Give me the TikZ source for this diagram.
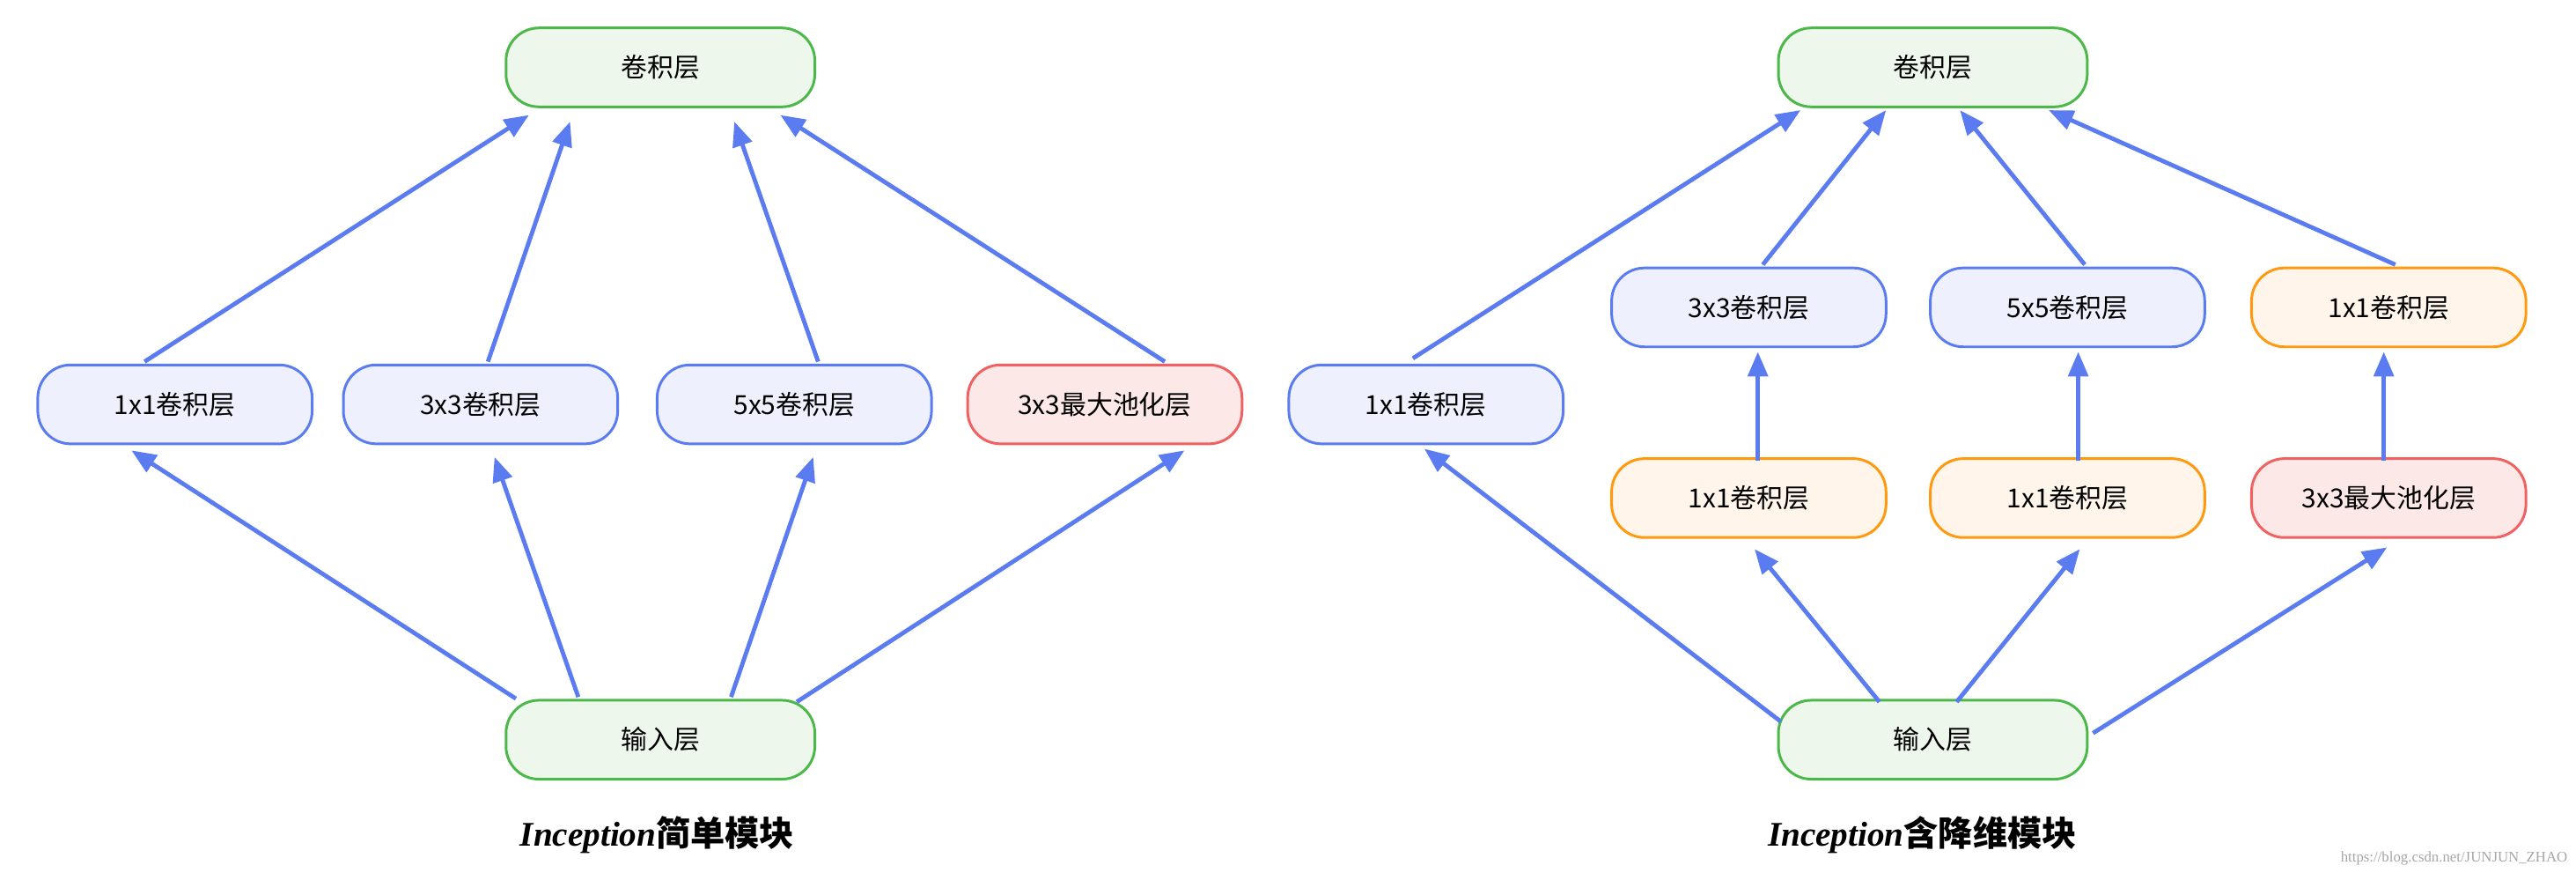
\documentclass[tikz,border=0pt]{standalone}
\usepackage{fontspec}
\setmainfont{Noto Sans CJK SC}
\newfontfamily\capfont{Noto Sans CJK SC}
\newfontfamily\itfont{Liberation Serif}
\newfontfamily\wmfont{Liberation Serif}
\usetikzlibrary{calc,arrows.meta}
\definecolor{bstroke}{HTML}{5B7CF0}
\definecolor{bfill}{HTML}{EEF1FD}
\definecolor{gstroke}{HTML}{4DB84A}
\definecolor{gfill}{HTML}{EEF7EC}
\definecolor{rstroke}{HTML}{F06262}
\definecolor{rfill}{HTML}{FDE8E8}
\definecolor{ostroke}{HTML}{FF9A10}
\definecolor{ofill}{HTML}{FFF5EA}
\tikzset{
  box/.style={rounded corners=20pt,line width=1.6pt,minimum height=48pt,inner sep=0pt,font=\fontsize{16}{18}\selectfont},
  sbox/.style={box,minimum width=167pt},
  wbox/.style={box,minimum width=188pt},
  bb/.style={sbox,draw=bstroke,fill=bfill},
  gb/.style={wbox,draw=gstroke,fill=gfill},
  rb/.style={sbox,draw=rstroke,fill=rfill},
  ob/.style={sbox,draw=ostroke,fill=ofill},
  arr/.style={draw=bstroke,line width=2.6pt,-{Triangle[length=15pt,width=12pt]}},
  captxt/.style={font=\fontsize{21}{24}\selectfont}
}
\begin{document}
\begin{tikzpicture}[x=1pt,y=1pt]
\useasboundingbox (0,0) rectangle (1568,-535);
% left
\node[gb] (lt) at (402,-41) {卷积层};
\node[gb] (lb) at (402,-450) {输入层};
\node[bb] (l1) at (106.5,-246) {1x1卷积层};
\node[bb] (l2) at (292.5,-246) {3x3卷积层};
\node[bb] (l3) at (483.5,-246) {5x5卷积层};
\node[rb] (l4) at (672.5,-246) {3x3最大池化层};
\draw[arr] ($(l1)+(-18.5,26)$) -- ($(lt)+(-80,-29)$);
\draw[arr] ($(l2)+(4.5,26)$) -- ($(lt)+(-55,-33)$);
\draw[arr] ($(l3)+(14.5,26)$) -- ($(lt)+(45,-33)$);
\draw[arr] ($(l4)+(36.5,26)$) -- ($(lt)+(73,-29)$);
\draw[arr] ($(lb)+(-88,25)$) -- ($(l1)+(-26.5,-28)$);
\draw[arr] ($(lb)+(-50,26)$) -- ($(l2)+(8.5,-32)$);
\draw[arr] ($(lb)+(43,26)$) -- ($(l3)+(11.5,-32)$);
\draw[arr] ($(lb)+(83,23)$) -- ($(l4)+(48.5,-28)$);
\node[captxt] (lc) at (400,-508) {{\itfont\itshape\bfseries Inception}{\capfont\bfseries 简单模块}};
% right
\node[gb] (rt) at (1176.5,-41) {卷积层};
\node[gb] (rb) at (1176.5,-450) {输入层};
\node[bb] (r1) at (868,-246) {1x1卷积层};
\node[bb] (r2) at (1064.5,-187) {3x3卷积层};
\node[bb] (r3) at (1258.5,-187) {5x5卷积层};
\node[ob] (r4) at (1454,-187) {1x1卷积层};
\node[ob] (r5) at (1064.5,-303) {1x1卷积层};
\node[ob] (r6) at (1258.5,-303) {1x1卷积层};
\node[rb] (r7) at (1454,-303) {3x3最大池化层};
\draw[arr] ($(r1)+(-8,28)$) -- ($(rt)+(-80.5,-26)$);
\draw[arr] ($(r2)+(8.5,26)$) -- ($(rt)+(-28.5,-26)$);
\draw[arr] ($(r3)+(10.5,26)$) -- ($(rt)+(16.5,-26)$);
\draw[arr] ($(r4)+(4,26)$) -- ($(rt)+(70.5,-26)$);
\draw[arr] ($(r5)+(5.5,23)$) -- ($(r2)+(5.5,-27)$);
\draw[arr] ($(r6)+(6.5,23)$) -- ($(r3)+(6.5,-27)$);
\draw[arr] ($(r7)+(-3,23)$) -- ($(r4)+(-3,-27)$);
\draw[arr] ($(rb)+(-92.5,11)$) -- ($(r1)+(-1,-27)$);
\draw[arr] ($(rb)+(-32.5,23)$) -- ($(r5)+(3.5,-31)$);
\draw[arr] ($(rb)+(14.5,23)$) -- ($(r6)+(7.5,-31)$);
\draw[arr] ($(rb)+(97.5,4)$) -- ($(r7)+(-1,-30)$);
\node[captxt] (rc) at (1170,-508) {{\itfont\itshape\bfseries Inception}{\capfont\bfseries 含降维模块}};
\node[anchor=east,text=gray!70,font=\wmfont\fontsize{9}{10}\selectfont,inner sep=0pt] (wm) at (1563,-522) {https://blog.csdn.net/JUNJUN\_ZHAO};
\end{tikzpicture}
\end{document}
